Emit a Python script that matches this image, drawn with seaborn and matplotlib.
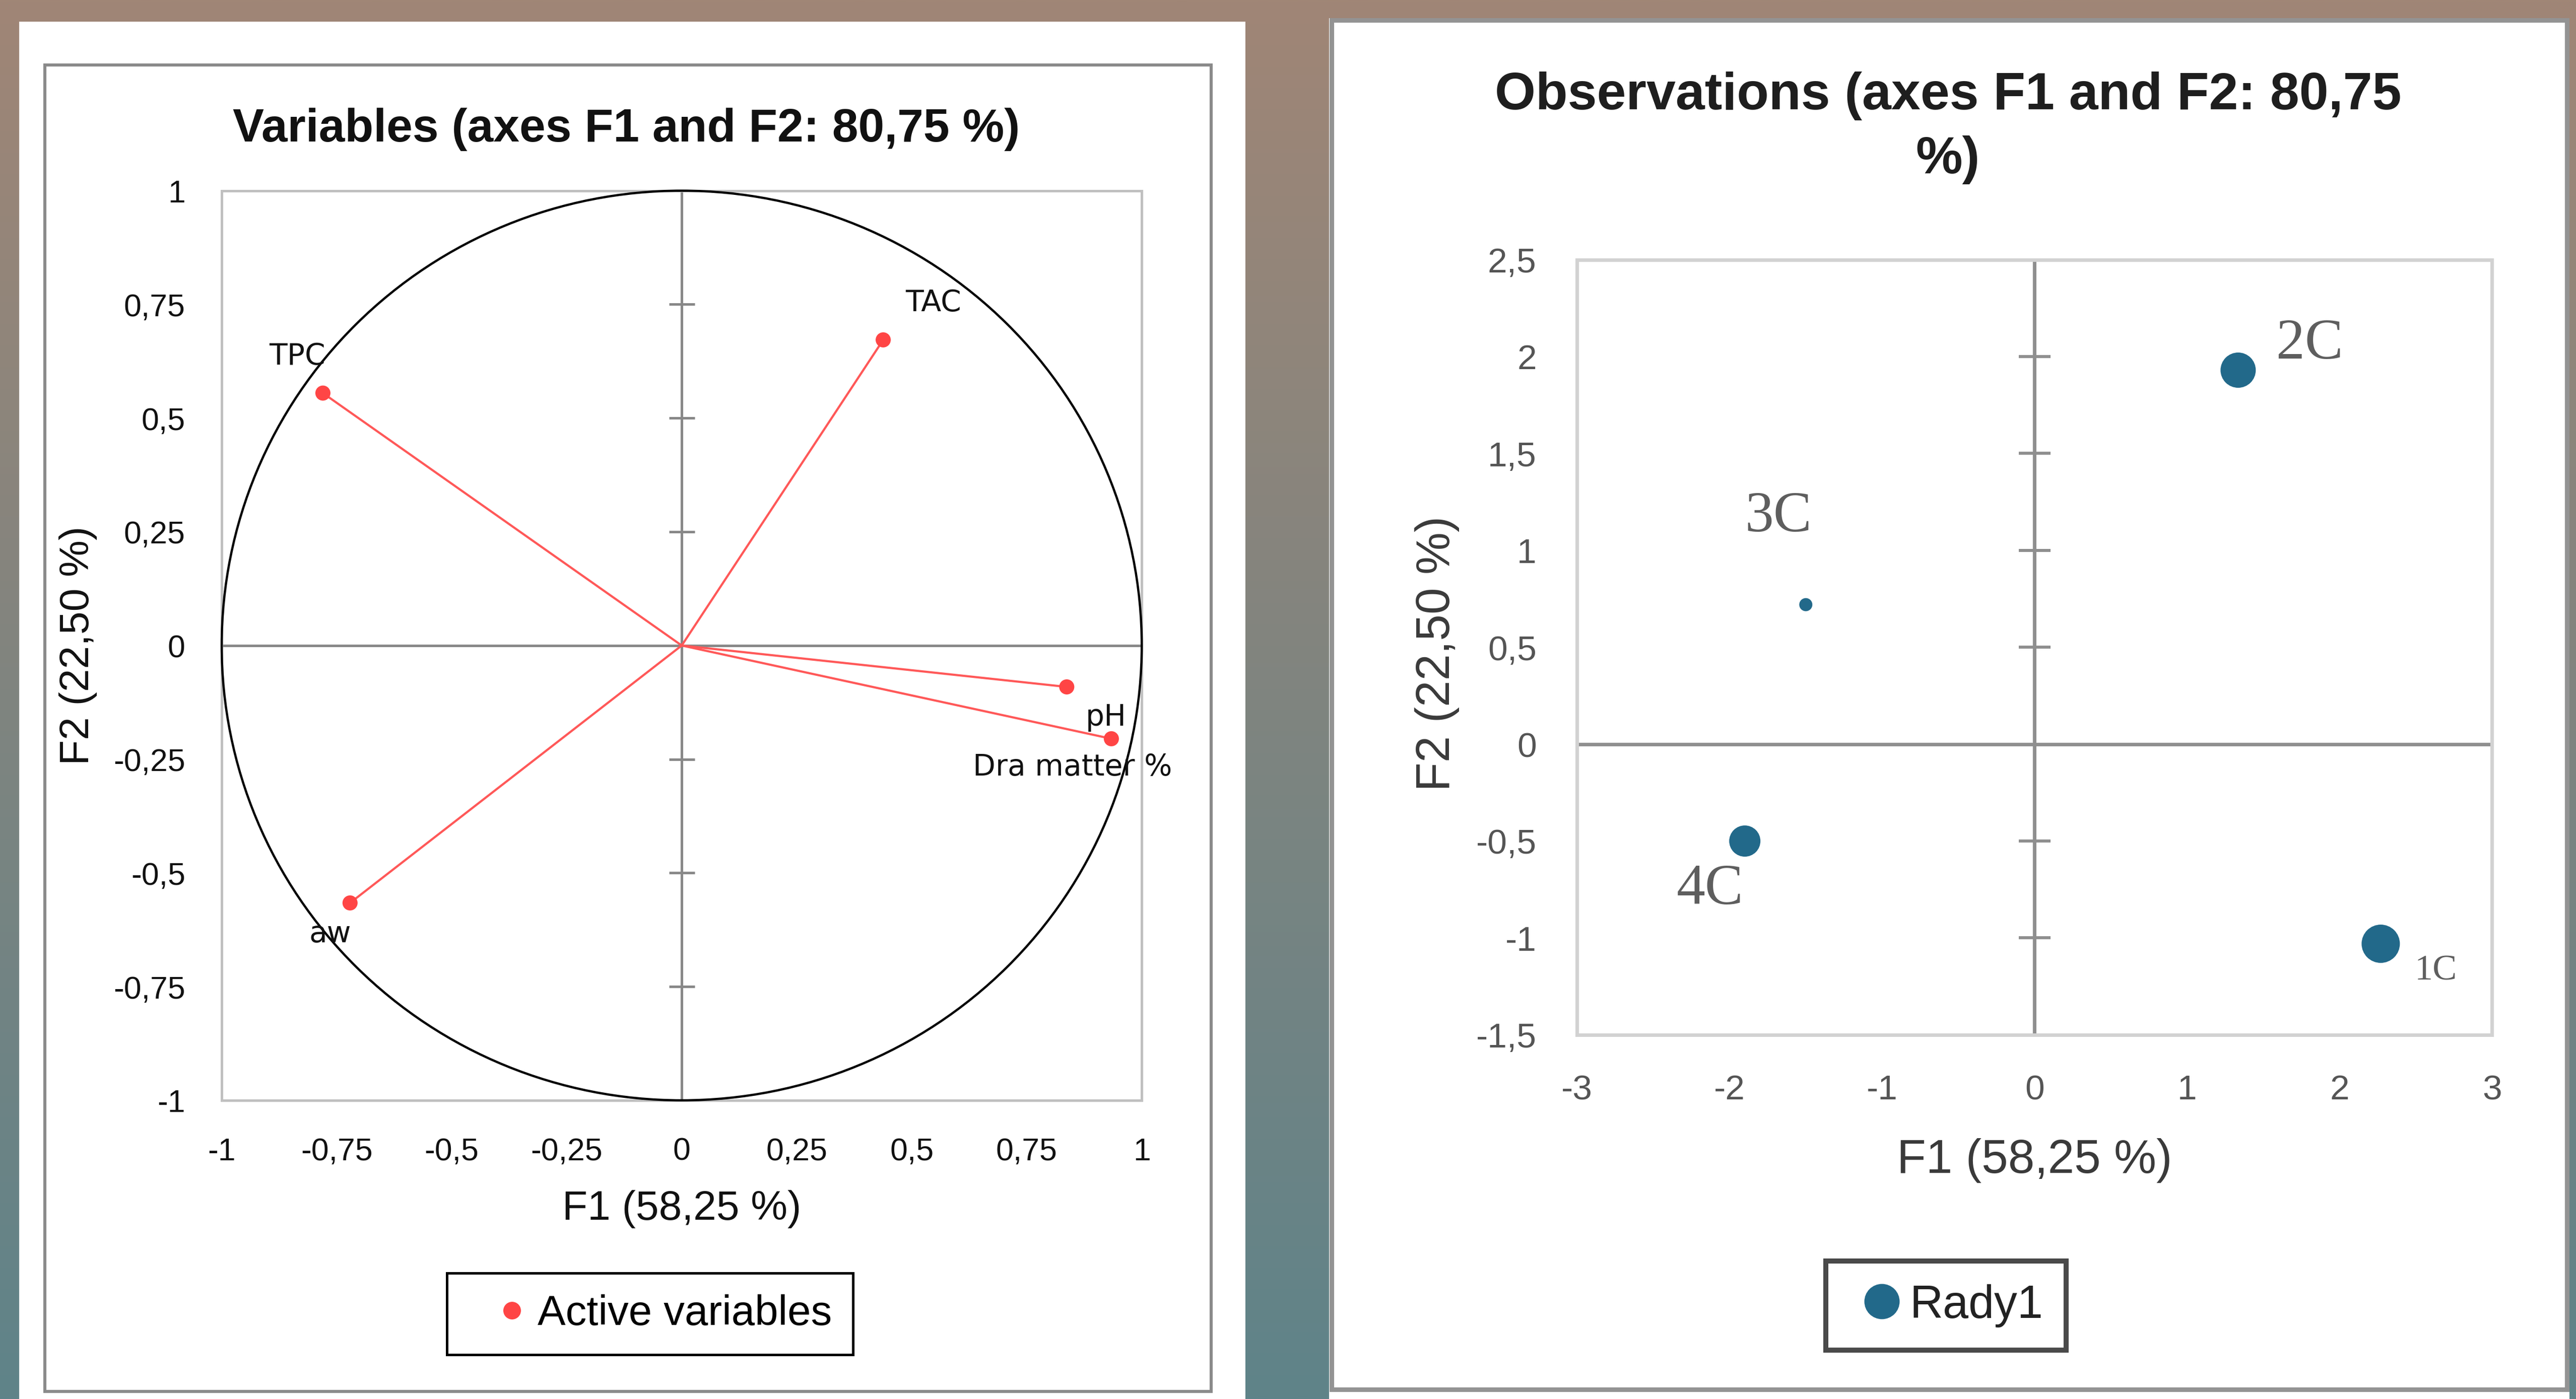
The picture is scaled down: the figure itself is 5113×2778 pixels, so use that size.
import numpy as np
import matplotlib
matplotlib.use("Agg")
import matplotlib.pyplot as plt
from matplotlib.patches import Rectangle, Circle
from matplotlib.lines import Line2D
import seaborn as sns

# ---------------- data ----------------
var_names = ["TPC", "TAC", "pH", "Dra matter %", "aw"]
var_f1 = [-0.780, 0.438, 0.837, 0.934, -0.721]
var_f2 = [0.555, 0.672, -0.091, -0.205, -0.566]

obs_names = ["1C", "2C", "3C", "4C"]
obs_f1 = [2.27, 1.335, -1.50, -1.90]
obs_f2 = [-1.03, 1.93, 0.72, -0.50]
obs_bubble = [76, 70, 26, 62]          # bubble diameters

var_ticks = [-1, -0.75, -0.5, -0.25, 0, 0.25, 0.5, 0.75, 1]
var_tick_labels = ["-1", "-0,75", "-0,5", "-0,25", "0", "0,25", "0,5", "0,75", "1"]
obs_xticks = [-3, -2, -1, 0, 1, 2, 3]
obs_xtick_labels = ["-3", "-2", "-1", "0", "1", "2", "3"]
obs_yticks = [-1.5, -1, -0.5, 0, 0.5, 1, 1.5, 2, 2.5]
obs_ytick_labels = ["-1,5", "-1", "-0,5", "0", "0,5", "1", "1,5", "2", "2,5"]

title_var = "Variables (axes F1 and F2: 80,75 %)"
title_obs = "Observations (axes F1 and F2: 80,75\n%)"
x_label = "F1 (58,25 %)"
y_label = "F2 (22,50 %)"
legend_var = "Active variables"
legend_obs = "Rady1"

# ---------------- layout helpers ----------------
W, H = 5113, 2778
DPI = 100
PT = DPI / 72.0  # px per point


def fx(x):
    return x / W


def fy(y):
    return 1 - y / H


fig = plt.figure(figsize=((W + 0.4) / DPI, (H + 0.4) / DPI), dpi=DPI)

# background gradient
bg = fig.add_axes([0, 0, 1, 1], zorder=-10)
top = np.array([160, 134, 118]) / 255.0
bot = np.array([95, 131, 137]) / 255.0
t = np.linspace(0, 1, 256)[:, None]
grad = (top[None, :] * (1 - t) + bot[None, :] * t)[:, None, :]
bg.imshow(grad, aspect="auto", extent=[0, 1, 0, 1], interpolation="bilinear")
bg.set_axis_off()

# white panels
fig.add_artist(Rectangle((fx(38), fy(2790)), (2472 - 38) / W, (2790 - 43) / H,
                         transform=fig.transFigure, facecolor="white",
                         edgecolor="none", zorder=-5))
fig.add_artist(Rectangle((fx(89), fy(2763)), (2404 - 89) / W, (2763 - 129) / H,
                         transform=fig.transFigure, facecolor="none",
                         edgecolor="#8a8a8a", lw=6 / PT, zorder=-4))
fig.add_artist(Rectangle((fx(2638), fy(2790)), (5100 - 2638) / W, (2790 - 36) / H,
                         transform=fig.transFigure, facecolor="white",
                         edgecolor="none", zorder=-5))
fig.add_artist(Rectangle((fx(2642.5), fy(2759.5)), (5095 - 2642.5) / W, (2759.5 - 40.5) / H,
                         transform=fig.transFigure, facecolor="none",
                         edgecolor="#939393", lw=9 / PT, zorder=-4))

# ---------------- left: variables ----------------
ax1 = fig.add_axes([fx(440), fy(2185), 1826 / W, 1806 / H])
ax1.set_xlim(-1, 1)
ax1.set_ylim(-1, 1)
for s in ax1.spines.values():
    s.set_color("#c0c0c0")
    s.set_linewidth(5 / PT)
ax1.axhline(0, color="#888888", lw=5 / PT, zorder=1)
ax1.axvline(0, color="#888888", lw=5 / PT, zorder=1)
ax1.plot(np.zeros(len(var_ticks)), var_ticks, ls="none", marker="_",
         ms=51 / PT, mew=5 / PT, color="#888888", zorder=1)
ax1.add_patch(Circle((0, 0), 1, fill=False, ec="black", lw=4.5 / PT,
                     zorder=3, clip_on=False))
for xv, yv in zip(var_f1, var_f2):
    ax1.plot([0, xv], [0, yv], color="#ff5858", lw=4.3 / PT, zorder=4)
sns.scatterplot(x=var_f1, y=var_f2, ax=ax1, color="#ff4545", s=(30 / PT) ** 2,
                edgecolor="none", zorder=5, legend=False)

var_offsets = {"TPC": (-51, -73), "TAC": (100, -74), "pH": (78, 60),
               "Dra matter %": (-77, 56), "aw": (-40, 61)}
for n, xv, yv in zip(var_names, var_f1, var_f2):
    dx, dy = var_offsets[n]
    ax1.annotate(n, (xv, yv), xytext=(dx, -dy), textcoords="offset pixels",
                 ha="center", va="center", fontsize=42, family="DejaVu Sans",
                 color="#111111", zorder=6)

ax1.set_xticks(var_ticks)
ax1.set_xticklabels(var_tick_labels)
ax1.set_yticks(var_ticks)
ax1.set_yticklabels(var_tick_labels)
ax1.tick_params(length=0, pad=52, labelsize=45, labelcolor="#111111")
for lab in ax1.get_xticklabels() + ax1.get_yticklabels():
    lab.set_family("Liberation Sans")
ax1.set_xlabel(x_label, fontsize=59, family="Liberation Sans", color="#111111")
ax1.set_ylabel(y_label, fontsize=59, family="Liberation Sans", color="#111111")
ax1.xaxis.label.set_va("center")
ax1.yaxis.label.set_va("center")
ax1.xaxis.set_label_coords(0.5, (2185 - 2401) / 1806)
ax1.yaxis.set_label_coords((155 - 440) / 1826, 0.5)

h1 = Line2D([], [], ls="none", marker="o", ms=35 / PT, mfc="#ff4545", mec="none")
leg1 = ax1.legend(handles=[h1], labels=[legend_var], loc="center",
                  bbox_to_anchor=(fx((871 + 1709) / 2), fy((2518 + 2700) / 2)),
                  bbox_transform=fig.transFigure,
                  prop={"family": "Liberation Sans", "size": 60},
                  frameon=True, fancybox=False, edgecolor="black", framealpha=1,
                  borderpad=0.5, handlelength=2.1, handletextpad=-0.44,
                  borderaxespad=0)
leg1.get_frame().set_linewidth(5 / PT)

fig.text(fx(1243), fy(257), title_var, ha="center", va="center", fontsize=67,
         weight="bold", family="Liberation Sans", color="#111111")

# ---------------- right: observations ----------------
ax2 = fig.add_axes([fx(3130), fy(2055), 1816 / W, 1539 / H])
ax2.set_xlim(-3, 3)
ax2.set_ylim(-1.5, 2.5)
for s in ax2.spines.values():
    s.set_color("#d2d2d2")
    s.set_linewidth(7 / PT)
ax2.axhline(0, color="#8f8f8f", lw=7 / PT, zorder=1)
ax2.axvline(0, color="#8f8f8f", lw=7 / PT, zorder=1)
ax2.plot(np.zeros(len(obs_yticks)), obs_yticks, ls="none", marker="_",
         ms=63 / PT, mew=6 / PT, color="#8f8f8f", zorder=1, clip_on=False)

obs_areas = {n: (d / PT) ** 2 for n, d in zip(obs_names, obs_bubble)}
sns.scatterplot(x=obs_f1, y=obs_f2, size=obs_names, sizes=obs_areas, ax=ax2,
                color="#22698a", edgecolor="none", zorder=5, legend=False)

obs_offsets = {"1C": (67, 54, "left", 52), "2C": (76, -51, "left", 82),
               "3C": (-55, -174, "center", 82), "4C": (-69, 97, "center", 82)}
for n, xv, yv in zip(obs_names, obs_f1, obs_f2):
    dx, dy, ha, fs = obs_offsets[n]
    ax2.annotate(n, (xv, yv), xytext=(dx, -dy), textcoords="offset pixels",
                 ha=ha, va="center", fontsize=fs, family="Liberation Serif",
                 color="#5e5e5e", zorder=6)

ax2.set_xticks(obs_xticks)
ax2.set_xticklabels(obs_xtick_labels)
ax2.set_yticks(obs_yticks)
ax2.set_yticklabels(obs_ytick_labels)
ax2.tick_params(length=0, labelsize=50, labelcolor="#555555")
ax2.tick_params(axis="y", pad=58)
ax2.tick_params(axis="x", pad=56)
for lab in ax2.get_xticklabels() + ax2.get_yticklabels():
    lab.set_family("Liberation Sans")
ax2.set_xlabel(x_label, fontsize=68, family="Liberation Sans", color="#3a3a3a")
ax2.set_ylabel(y_label, fontsize=68, family="Liberation Sans", color="#3a3a3a")
ax2.xaxis.label.set_va("center")
ax2.yaxis.label.set_va("center")
ax2.xaxis.set_label_coords(0.5, (2055 - 2304) / 1539)
ax2.yaxis.set_label_coords((2852 - 3130) / 1816, (2055 - 1298) / 1539)

h2 = Line2D([], [], ls="none", marker="o", ms=70 / PT, mfc="#22698a", mec="none")
leg2 = ax2.legend(handles=[h2], labels=[legend_obs], loc="center",
                  bbox_to_anchor=(fx((3629 + 4095) / 2), fy((2487 + 2698) / 2)),
                  bbox_transform=fig.transFigure,
                  prop={"family": "Liberation Sans", "size": 66},
                  frameon=True, fancybox=False, edgecolor="#4a4a4a", framealpha=1,
                  borderpad=0.5, handlelength=1.43, handletextpad=-0.11,
                  borderaxespad=0)
leg2.get_frame().set_linewidth(10 / PT)
for txt in leg2.get_texts():
    txt.set_color("#222222")

fig.text(fx(3866), fy(254), title_obs, ha="center", va="center", fontsize=75,
         weight="bold", family="Liberation Sans", color="#1e1e1e",
         linespacing=1.4, multialignment="center")

fig.savefig("out.png", dpi=DPI)
